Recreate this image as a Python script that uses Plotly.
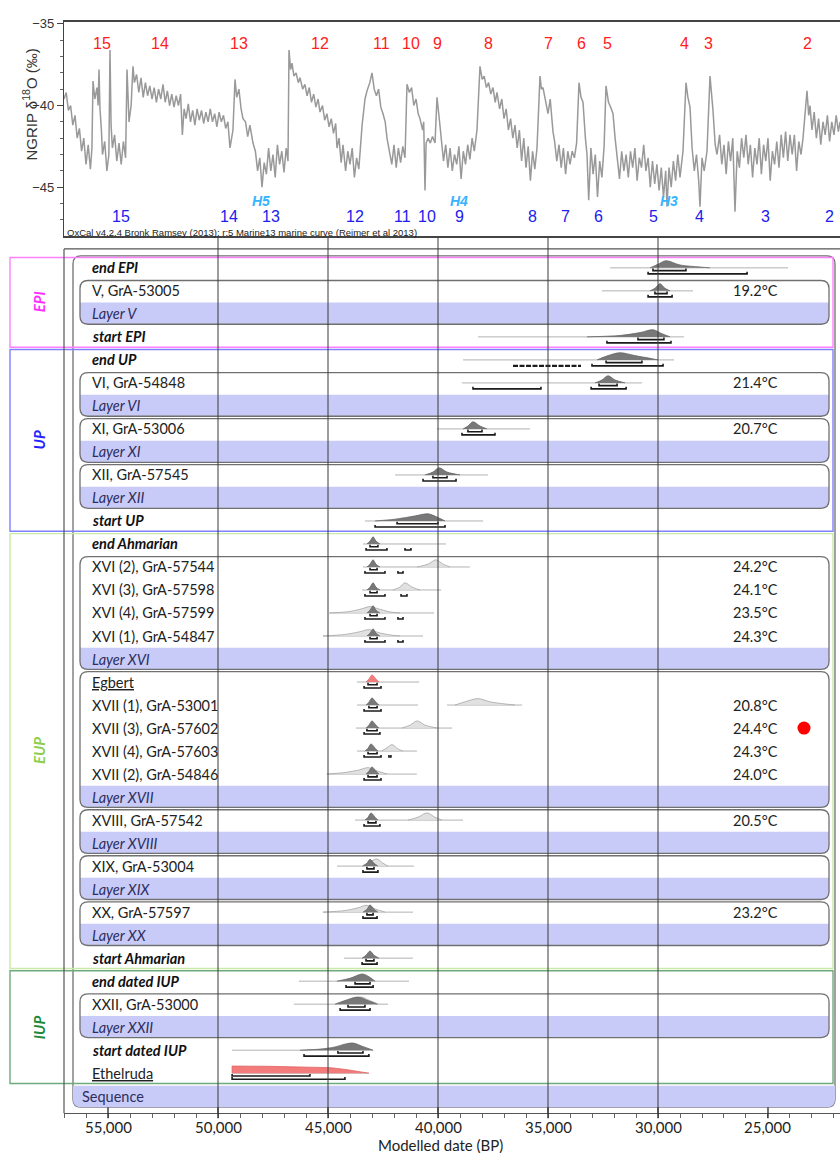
import plotly.graph_objects as go

W, H = 840, 1153

# ---------------- NGRIP d18O record (age BP, permil) ----------------
ngrip = [
(57000,-39.6),(56900,-39.2),(56800,-40.3),(56700,-40.0),(56600,-41.2),(56500,-40.6),(56400,-42.0),(56300,-41.4),
(56200,-42.8),(56100,-42.0),(56000,-43.6),(55900,-42.4),(55800,-43.9),(55730,-42.6),(55682,-38.5),(55600,-39.6),
(55500,-38.9),(55450,-40.0),(55409,-37.8),(55364,-40.2),(55300,-41.5),(55250,-43.0),(55150,-42.2),(55050,-44.0),
(54960,-43.0),(54909,-36.6),(54860,-41.2),(54800,-42.6),(54700,-41.8),(54600,-43.4),(54500,-42.3),(54400,-43.6),
(54300,-42.2),(54200,-43.2),(54136,-37.8),(54045,-41.0),(53950,-40.0),(53864,-37.6),(53800,-38.6),(53700,-38.1),
(53600,-39.2),(53500,-38.3),(53400,-39.5),(53300,-38.6),(53200,-39.4),(53100,-38.8),(53000,-39.6),(52900,-38.9),
(52800,-39.8),(52700,-39.0),(52600,-39.6),(52500,-38.7),(52400,-39.8),(52300,-39.1),(52200,-40.0),(52100,-39.3),
(52000,-40.1),(51900,-39.4),(51800,-40.0),(51700,-39.3),(51620,-41.8),(51540,-40.2),(51450,-40.8),(51350,-39.9),
(51250,-41.0),(51150,-40.3),(51050,-41.2),(50950,-40.2),(50850,-40.9),(50750,-40.3),(50650,-41.1),(50550,-40.4),
(50450,-41.0),(50350,-40.2),(50250,-41.0),(50150,-40.5),(50050,-41.3),(49950,-40.4),(49850,-41.0),(49750,-40.6),
(49650,-41.4),(49550,-41.0),(49455,-42.6),(49320,-41.5),(49227,-38.4),(49150,-39.5),(49050,-39.0),(48950,-40.2),
(48864,-40.8),(48750,-41.0),(48650,-41.9),(48550,-41.2),(48409,-42.3),(48300,-42.8),(48200,-44.0),(48100,-43.2),
(48000,-45.0),(47900,-43.5),(47800,-44.2),(47700,-42.6),(47600,-44.0),(47500,-43.0),(47400,-44.4),(47300,-42.4),
(47200,-43.6),(47100,-42.8),(47000,-44.1),(46900,-42.6),(46818,-43.4),(46773,-36.6),(46700,-37.8),(46636,-37.4),
(46550,-38.2),(46450,-38.0),(46350,-38.6),(46273,-38.3),(46150,-39.0),(46050,-38.7),(45950,-39.4),(45850,-38.9),
(45750,-39.8),(45650,-39.3),(45550,-40.1),(45450,-39.6),(45364,-40.4),(45250,-40.0),(45150,-40.9),(45050,-40.5),
(44950,-41.3),(44850,-40.8),(44750,-41.7),(44650,-41.1),(44591,-42.6),(44500,-42.0),(44400,-43.5),(44318,-42.4),
(44200,-44.0),(44100,-42.8),(44000,-43.6),(43900,-42.6),(43800,-44.4),(43700,-43.2),(43600,-43.9),(43545,-42.8),
(43450,-41.2),(43318,-39.6),(43227,-39.1),(43100,-38.6),(43000,-38.0),(42900,-39.0),(42800,-39.4),(42700,-39.0),
(42600,-40.1),(42500,-40.5),(42400,-41.0),(42318,-42.0),(42200,-42.8),(42100,-43.6),(42000,-42.4),(41900,-43.8),
(41800,-42.6),(41700,-43.5),(41600,-42.5),(41500,-43.2),(41409,-38.7),(41300,-39.2),(41200,-38.9),(41100,-40.0),
(41000,-39.6),(40900,-40.5),(40818,-40.8),(40700,-41.5),(40650,-41.0),(40591,-45.2),(40540,-42.3),(40450,-42.0),
(40350,-42.3),(40250,-41.9),(40136,-42.3),(40045,-39.5),(39950,-40.7),(39850,-42.0),(39750,-43.4),(39650,-42.4),
(39550,-43.8),(39450,-42.6),(39350,-44.0),(39250,-43.0),(39150,-43.6),(39050,-42.5),(38950,-44.5),(38850,-42.8),
(38750,-43.6),(38650,-42.4),(38550,-43.3),(38450,-42.0),(38350,-42.8),(38227,-41.5),(38091,-37.6),(37990,-38.4),
(37900,-38.2),(37800,-38.9),(37700,-38.6),(37600,-39.3),(37500,-38.9),(37400,-39.8),(37318,-39.2),(37200,-40.2),
(37100,-39.6),(37000,-40.8),(36900,-40.2),(36800,-41.5),(36700,-40.8),(36600,-42.0),(36500,-41.2),(36400,-42.6),
(36300,-41.5),(36200,-43.4),(36100,-42.0),(36000,-43.8),(35900,-42.5),(35800,-44.6),(35700,-42.8),(35600,-43.9),
(35500,-42.6),(35364,-38.2),(35300,-39.0),(35227,-38.9),(35100,-39.8),(35000,-40.5),(34900,-39.6),(34773,-41.6),
(34700,-42.2),(34600,-43.4),(34500,-42.4),(34400,-43.8),(34300,-42.6),(34200,-44.2),(34100,-42.8),(34000,-43.6),
(33900,-42.8),(33800,-43.2),(33700,-42.3),(33591,-38.6),(33500,-39.5),(33409,-39.8),(33300,-42.0),(33227,-43.0),
(33150,-45.8),(33050,-42.6),(32950,-44.2),(32850,-43.0),(32750,-45.6),(32650,-43.4),(32550,-44.4),(32450,-42.5),
(32364,-38.8),(32250,-39.8),(32150,-40.1),(32045,-40.5),(31950,-42.0),(31864,-43.0),(31750,-44.5),(31650,-42.8),
(31550,-44.0),(31450,-43.0),(31350,-44.4),(31250,-42.8),(31150,-43.8),(31050,-42.6),(30950,-44.6),(30850,-43.2),
(30750,-43.8),(30650,-42.4),(30550,-44.0),(30450,-43.2),(30350,-45.0),(30250,-43.4),(30150,-44.8),(30050,-43.6),
(29950,-45.2),(29850,-43.8),(29750,-45.6),(29650,-44.0),(29591,-46.2),(29500,-43.8),(29400,-45.0),(29300,-43.4),
(29200,-44.6),(29100,-43.0),(29000,-44.4),(28864,-42.8),(28727,-38.6),(28640,-39.5),(28545,-40.1),(28450,-42.6),
(28350,-44.0),(28250,-43.0),(28150,-44.6),(28091,-46.2),(28000,-43.2),(27900,-44.0),(27773,-42.8),(27636,-38.2),
(27550,-39.4),(27500,-40.3),(27400,-42.4),(27318,-43.0),(27200,-41.8),(27100,-43.6),(27000,-42.4),(26900,-44.2),
(26800,-42.2),(26700,-43.4),(26600,-42.0),(26500,-46.5),(26400,-42.8),(26300,-43.8),(26200,-42.0),(26100,-43.2),
(26000,-41.8),(25900,-43.6),(25800,-42.4),(25700,-44.4),(25600,-42.6),(25500,-43.6),(25400,-42.0),(25300,-44.2),
(25200,-42.4),(25100,-43.4),(25000,-42.0),(24900,-44.6),(24800,-42.8),(24700,-43.6),(24600,-42.2),(24500,-43.8),
(24400,-41.8),(24300,-43.2),(24200,-41.6),(24100,-43.4),(24000,-41.8),(23900,-43.0),(23800,-41.8),(23700,-44.0),
(23600,-42.2),(23500,-43.0),(23409,-42.0),(23227,-39.1),(23150,-40.6),(23091,-40.0),(23000,-41.5),(22900,-40.4),
(22800,-42.0),(22700,-40.8),(22600,-42.4),(22500,-41.0),(22400,-41.8),(22300,-40.6),(22200,-42.2),(22100,-41.0),
(22000,-41.8),(21900,-40.6),(21800,-41.6),(21727,-41.0),
]
ngrip_age = [a for a, v in ngrip]
ngrip_d18o = [v for a, v in ngrip]

# Greenland interstadials (red, top) and stadials (blue, bottom)
gi_age = [55273, 52636, 49046, 45364, 42591, 41227, 40045, 37682, 35000, 33500, 32273, 28773, 27727, 23227]
gi_text = ["15", "14", "13", "12", "11", "10", "9", "8", "7", "6", "5", "4", "3", "2"]
gs_age = [54409, 49500, 47591, 43773, 41636, 40500, 39045, 35727, 34227, 32727, 30182, 28091, 25091, 22227]
gs_text = ["15", "14", "13", "12", "11", "10", "9", "8", "7", "6", "5", "4", "3", "2"]
heinrich_age = [48045, 39045, 29500]
heinrich_text = ["H5", "H4", "H3"]

# ---------------- OxCal model rows ----------------
row_labels = ["end EPI", "V, GrA-53005", "Layer V", "start EPI", "end UP", "VI, GrA-54848", "Layer VI",
              "XI, GrA-53006", "Layer XI", "XII, GrA-57545", "Layer XII", "start UP", "end Ahmarian",
              "XVI (2), GrA-57544", "XVI (3), GrA-57598", "XVI (4), GrA-57599", "XVI (1), GrA-54847",
              "Layer XVI", "Egbert", "XVII (1), GrA-53001", "XVII (3), GrA-57602", "XVII (4), GrA-57603",
              "XVII (2), GrA-54846", "Layer XVII", "XVIII, GrA-57542", "Layer XVIII", "XIX, GrA-53004",
              "Layer XIX", "XX, GrA-57597", "Layer XX", "start Ahmarian", "end dated IUP", "XXII, GrA-53000",
              "Layer XXII", "start dated IUP", "Ethelruda", "Sequence"]
row_kind = ["b", "d", "l", "b", "b", "d", "l", "d", "l", "d", "l", "b", "b",
            "d", "d", "d", "d", "l", "u", "d", "d", "d", "d", "l", "d", "l", "d",
            "l", "d", "l", "b", "b", "d", "l", "b", "u", "s"]

temp_rows = ["V, GrA-53005", "VI, GrA-54848", "XI, GrA-53006", "XVI (2), GrA-57544", "XVI (3), GrA-57598",
             "XVI (4), GrA-57599", "XVI (1), GrA-54847", "XVII (1), GrA-53001", "XVII (3), GrA-57602",
             "XVII (4), GrA-57603", "XVII (2), GrA-54846", "XVIII, GrA-57542", "XX, GrA-57597"]
temp_values = [19.2, 21.4, 20.7, 24.2, 24.1, 23.5, 24.3, 20.8, 24.4, 24.3, 24.0, 20.5, 23.2]
highlight_row = "XVII (3), GrA-57602"
highlight_age = 23364

# phases: (first dated row, layer row)
phases = [("V, GrA-53005", "Layer V"), ("VI, GrA-54848", "Layer VI"), ("XI, GrA-53006", "Layer XI"),
          ("XII, GrA-57545", "Layer XII"), ("XVI (2), GrA-57544", "Layer XVI"), ("Egbert", "Layer XVII"),
          ("XVIII, GrA-57542", "Layer XVIII"), ("XIX, GrA-53004", "Layer XIX"), ("XX, GrA-57597", "Layer XX"),
          ("XXII, GrA-53000", "Layer XXII")]
groups = [("EPI", "end EPI", "start EPI"), ("UP", "end UP", "start UP"),
          ("EUP", "end Ahmarian", "start Ahmarian"), ("IUP", "end dated IUP", "Ethelruda")]

# modelled (posterior) distributions: (age BP, relative density)
posterior = {
    "end EPI": [(30360,0),(30000,0.5),(29640,1),(29000,0.4),(28100,0.12),(27640,0)],
    "V, GrA-53005": [(30360,0),(30140,0.35),(29910,1),(29680,0.35),(29450,0)],
    "start EPI": [(33230,0),(31730,0.2),(30820,0.6),(30230,1),(29820,0.45),(29450,0)],
    "end UP": [(32770,0),(32270,0.6),(31730,1),(31050,0.6),(30360,0.22),(30000,0)],
    "VI, GrA-54848": [(32860,0),(32550,0.4),(32270,1),(31950,0.4),(31500,0)],
    "XI, GrA-53006": [(38860,0),(38640,0.4),(38410,1),(38090,0.4),(37770,0)],
    "XII, GrA-57545": [(40590,0),(40230,0.4),(39950,1),(39590,0.4),(39000,0)],
    "start UP": [(42860,0),(41950,0.25),(41050,0.7),(40450,1),(40050,0.55),(39680,0)],
    "end Ahmarian": [(43230,0),(43090,0.4),(42950,1),(42820,0.4),(42640,0)],
    "XVI (2), GrA-57544": [(43230,0),(43090,0.4),(42950,1),(42820,0.4),(42640,0)],
    "XVI (3), GrA-57598": [(43230,0),(43090,0.4),(42950,1),(42820,0.4),(42640,0)],
    "XVI (4), GrA-57599": [(43230,0),(43090,0.4),(42950,1),(42820,0.4),(42640,0)],
    "XVI (1), GrA-54847": [(43230,0),(43090,0.4),(42950,1),(42820,0.4),(42640,0)],
    "XVII (1), GrA-53001": [(43270,0),(43140,0.4),(43000,1),(42820,0.4),(42680,0)],
    "XVII (3), GrA-57602": [(43270,0),(43140,0.4),(43000,1),(42820,0.4),(42680,0)],
    "XVII (4), GrA-57603": [(43320,0),(43180,0.4),(43045,1),(42860,0.4),(42730,0)],
    "XVII (2), GrA-54846": [(43270,0),(43140,0.4),(43000,1),(42820,0.4),(42680,0)],
    "XVIII, GrA-57542": [(43320,0),(43180,0.4),(43045,1),(42860,0.4),(42730,0)],
    "XIX, GrA-53004": [(43410,0),(43230,0.4),(43090,0.95),(42910,0.4),(42730,0)],
    "XX, GrA-57597": [(43410,0),(43230,0.4),(43090,1),(42910,0.4),(42730,0)],
    "start Ahmarian": [(43450,0),(43270,0.4),(43090,1),(42910,0.4),(42680,0)],
    "end dated IUP": [(44590,0),(44000,0.4),(43450,1),(43180,0.7),(42860,0)],
    "XXII, GrA-53000": [(44680,0),(44230,0.5),(43640,1),(43230,0.55),(42770,0)],
    "start dated IUP": [(46270,0),(45360,0.15),(44680,0.45),(44230,0.85),(43860,1),(43450,0.55),(42950,0)],
}
posterior_red = {
    "Egbert": [(43270,0),(43140,0.4),(43000,1),(42820,0.4),(42680,0)],
    "Ethelruda": [(49360,0),(49360,1),(47800,0.97),(46270,0.92),(44900,0.78),(44200,0.52),(43600,0.2),(43140,0)],
}
# unmodelled (likelihood) distributions
likelihood = {
    "XVI (2), GrA-57544": [(40950,0),(40450,0.4),(40090,1),(39770,0.4),(39450,0)],
    "XVI (3), GrA-57598": [(42050,0),(41730,0.4),(41500,1),(41180,0.4),(40820,0)],
    "XVI (4), GrA-57599": [(44910,0),(44000,0.22),(43450,0.6),(43090,0.9),(42730,0.6),(42180,0.15),(41730,0)],
    "XVI (1), GrA-54847": [(45230,0),(44230,0.22),(43550,0.6),(43140,0.9),(42730,0.5),(42180,0.15),(41730,0)],
    "XVII (1), GrA-53001": [(39230,0),(38770,0.45),(38180,0.9),(37640,0.45),(36950,0.15),(36500,0)],
    "XVII (3), GrA-57602": [(41640,0),(41270,0.4),(40950,1),(40590,0.4),(40050,0)],
    "XVII (4), GrA-57603": [(42550,0),(42320,0.45),(42090,0.9),(41820,0.3),(41590,0)],
    "XVII (2), GrA-54846": [(45050,0),(44230,0.22),(43550,0.6),(43180,0.9),(42770,0.45),(42320,0)],
    "XVIII, GrA-57542": [(41360,0),(40910,0.4),(40500,1),(40140,0.4),(39820,0)],
    "XIX, GrA-53004": [(43450,0),(43090,0.6),(42770,1),(42500,0.4),(42270,0)],
    "XX, GrA-57597": [(45230,0),(44230,0.22),(43640,0.6),(43230,0.95),(42860,0.45),(42410,0)],
    "XXII, GrA-53000": [(44500,0),(44000,0.5),(43500,1),(43100,0.5),(42700,0)],
}
# 68.2% and 95.4% highest posterior density ranges
range68 = {
    "end EPI": [(30230,28730)], "V, GrA-53005": [(30140,29590)], "start EPI": [(30910,29730)],
    "end UP": [(32360,30730)], "VI, GrA-54848": [(32680,31860)], "XI, GrA-53006": [(38640,38000)],
    "XII, GrA-57545": [(40230,39590)], "start UP": [(41860,40000)], "end Ahmarian": [(43090,42730)],
    "XVI (2), GrA-57544": [(43090,42770)], "XVI (3), GrA-57598": [(43090,42770)],
    "XVI (4), GrA-57599": [(43090,42770)], "XVI (1), GrA-54847": [(43090,42770)],
    "Egbert": [(43180,42770)], "XVII (1), GrA-53001": [(43140,42770)], "XVII (3), GrA-57602": [(43230,42770)],
    "XVII (4), GrA-57603": [(43180,42770)], "XVII (2), GrA-54846": [(43180,42770)],
    "XVIII, GrA-57542": [(43180,42820)], "XIX, GrA-53004": [(43230,42910)], "XX, GrA-57597": [(43230,42950)],
    "start Ahmarian": [(43270,42910)], "end dated IUP": [(43770,43090)], "XXII, GrA-53000": [(44090,43320)],
    "start dated IUP": [(44550,43410)], "Ethelruda": [(49360,45820)],
}
range95 = {
    "end EPI": [(30450,25950)], "V, GrA-53005": [(30450,29360)], "start EPI": [(32320,29410)],
    "end UP": [(33000,29770)],
    "VI, GrA-54848": [(38410,35320),(33040,31450)], "XI, GrA-53006": [(38910,37410)],
    "XII, GrA-57545": [(40680,39180)], "start UP": [(42860,39680)],
    "end Ahmarian": [(43270,42320),(41500,41230)],
    "XVI (2), GrA-57544": [(43320,42410),(41820,41590)], "XVI (3), GrA-57598": [(43320,42410),(41680,41410)],
    "XVI (4), GrA-57599": [(43320,42410),(41820,41590)], "XVI (1), GrA-54847": [(43320,42410),(41820,41590)],
    "Egbert": [(43360,42590)], "XVII (1), GrA-53001": [(43360,42590)], "XVII (3), GrA-57602": [(43360,42640)],
    "XVII (4), GrA-57603": [(43360,42590),(42230,42140)], "XVII (2), GrA-54846": [(43360,42590)],
    "XVIII, GrA-57542": [(43360,42640)], "XIX, GrA-53004": [(43410,42730)], "XX, GrA-57597": [(43410,42770)],
    "start Ahmarian": [(43450,42770)], "end dated IUP": [(44180,42950)], "XXII, GrA-53000": [(44450,43090)],
    "start dated IUP": [(46090,43140)], "Ethelruda": [(49360,44230)],
}
# 95.4% range made of many small fragments
range95_fragmented = {"end UP": [(36590,33500)]}
# plotted extent of each distribution
extent = {
    "end EPI": [(32180,24090)], "V, GrA-53005": [(32550,28410)], "start EPI": [(38180,28820)],
    "end UP": [(38860,29270)], "VI, GrA-54848": [(38910,30730)], "XI, GrA-53006": [(40050,35820)],
    "XII, GrA-57545": [(41950,37730)], "start UP": [(43320,37950)], "end Ahmarian": [(43410,39640)],
    "XVI (2), GrA-57544": [(43410,38550)], "XVI (3), GrA-57598": [(43450,39860)],
    "XVI (4), GrA-57599": [(44950,40180)], "XVI (1), GrA-54847": [(45230,40680)],
    "Egbert": [(43680,40860)], "XVII (1), GrA-53001": [(43680,40910),(39590,36180)],
    "XVII (3), GrA-57602": [(43730,39360)], "XVII (4), GrA-57603": [(43680,40960)],
    "XVII (2), GrA-54846": [(45050,40960)], "XVIII, GrA-57542": [(43770,38860)],
    "XIX, GrA-53004": [(44590,41090)], "XX, GrA-57597": [(45230,41140)], "start Ahmarian": [(44270,41140)],
    "end dated IUP": [(46320,41320)], "XXII, GrA-53000": [(46550,42270)], "start dated IUP": [(49360,42950)],
    "Ethelruda": [(49360,43140)],
}
x_ticks = [55000, 50000, 45000, 40000, 35000, 30000, 25000]
x_ticktext = ["55,000", "50,000", "45,000", "40,000", "35,000", "30,000", "25,000"]
grid_ages = [50000, 45000, 40000, 35000, 30000]

# ---------------- layout helpers ----------------
ROW0, ROWH = 264.0, 23.11
def px2row(p): return (p - ROW0) / ROWH
def px(xp): return xp / W
def py(yp): return 1 - yp / H
ri = {lab: i for i, lab in enumerate(row_labels)}

FONT = "Lato"
AFONT = "Liberation Sans"
PEAK = 0.31
OFF68, OFF95, TICK = 0.12, 0.26, 0.09

fig = go.Figure()

# NGRIP curve
fig.add_trace(go.Scatter(x=ngrip_age, y=ngrip_d18o, mode="lines", xaxis="x", yaxis="y",
                         line=dict(color="#999999", width=1.5), hoverinfo="skip", showlegend=False))

# baselines
bx, by = [], []
for lab, segs in extent.items():
    r = ri[lab]
    for a, b in segs:
        bx += [a, b, None]; by += [r, r, None]
fig.add_trace(go.Scatter(x=bx, y=by, mode="lines", xaxis="x2", yaxis="y2",
                         line=dict(color="#a9a9a9", width=0.9), hoverinfo="skip", showlegend=False))

def add_dist(pts, r, fill, line, shape="spline"):
    xs = [a for a, d in pts]
    ys = [r - d * PEAK for a, d in pts]
    fig.add_trace(go.Scatter(x=xs, y=ys, mode="lines", fill="toself", fillcolor=fill, xaxis="x2", yaxis="y2",
                             line=dict(color=line, width=0.8, shape=shape, smoothing=0.9),
                             hoverinfo="skip", showlegend=False))

for lab, pts in likelihood.items():
    add_dist(pts, ri[lab], "rgba(222,222,222,0.9)", "#a6a6a6")
for lab, pts in posterior.items():
    add_dist(pts, ri[lab], "#787878", "#666666")
add_dist(posterior_red["Egbert"], ri["Egbert"], "#f37b7b", "#e06262")
add_dist(posterior_red["Ethelruda"], ri["Ethelruda"], "#f37b7b", "#e06262", shape="linear")

# range bars
rx_, ry_ = [], []
for dct, off in ((range68, OFF68), (range95, OFF95)):
    for lab, segs in dct.items():
        r = ri[lab] + off
        for a, b in segs:
            rx_ += [a, a, b, b, None]
            ry_ += [r - TICK, r, r, r - TICK, None]
fig.add_trace(go.Scatter(x=rx_, y=ry_, mode="lines", xaxis="x2", yaxis="y2",
                         line=dict(color="#1b1b1b", width=1.6), hoverinfo="skip", showlegend=False))
fx, fy = [], []
for lab, segs in range95_fragmented.items():
    r = ri[lab] + OFF95
    for a, b in segs:
        fx += [a, b, None]; fy += [r, r, None]
fig.add_trace(go.Scatter(x=fx, y=fy, mode="lines", xaxis="x2", yaxis="y2",
                         line=dict(color="#1b1b1b", width=2.4, dash="5px,1.5px"),
                         hoverinfo="skip", showlegend=False))

# highlight dot
fig.add_trace(go.Scatter(x=[highlight_age], y=[ri[highlight_row]], mode="markers", xaxis="x2", yaxis="y2",
                         marker=dict(color="#ff0000", size=13), hoverinfo="skip", showlegend=False))

shapes = []
annotations = []

def rrect(x0, x1, y0, y1, r_px=8, top_round=True, bottom_round=True):
    rx = r_px / W
    ryv = r_px / ROWH
    p = ""
    if top_round:
        p += f"M {x0+rx},{y0} L {x1-rx},{y0} Q {x1},{y0} {x1},{y0+ryv} "
    else:
        p += f"M {x0},{y0} L {x1},{y0} "
    if bottom_round:
        p += f"L {x1},{y1-ryv} Q {x1},{y1} {x1-rx},{y1} L {x0+rx},{y1} Q {x0},{y1} {x0},{y1-ryv} "
    else:
        p += f"L {x1},{y1} L {x0},{y1} "
    if top_round:
        p += f"L {x0},{y0+ryv} Q {x0},{y0} {x0+rx},{y0} Z"
    else:
        p += "Z"
    return p

BAND = "#c8cbf7"
BOXLINE = "#707070"

# sequence box
sx0, sx1 = px(73), px(835)
sy0, sy1 = px2row(252), px2row(1107)
shapes.append(dict(type="path", xref="paper", yref="y2", path=rrect(sx0, sx1, sy0, sy1), fillcolor="white",
                   line=dict(color=BOXLINE, width=1.3), layer="below"))
shapes.append(dict(type="path", xref="paper", yref="y2",
                   path=rrect(sx0, sx1, ri["Sequence"] - 0.45, sy1, top_round=False),
                   fillcolor=BAND, line=dict(width=0), layer="below"))

# phase boxes
lx0, lx1 = px(80), px(829)
for first, layer in phases:
    y0 = ri[first] - 0.45
    y1 = ri[layer] + 0.45
    shapes.append(dict(type="path", xref="paper", yref="y2", path=rrect(lx0, lx1, y0, y1), fillcolor="white",
                       line=dict(width=0), layer="below"))
    shapes.append(dict(type="path", xref="paper", yref="y2",
                       path=rrect(lx0, lx1, ri[layer] - 0.49, y1, top_round=False),
                       fillcolor=BAND, line=dict(width=0), layer="below"))
    shapes.append(dict(type="path", xref="paper", yref="y2", path=rrect(lx0, lx1, y0, y1),
                       line=dict(color=BOXLINE, width=1.3), layer="below"))

# group boxes
gcol = {"EPI": "#ff80ff", "UP": "#8080ff", "EUP": "#c8eaa8", "IUP": "#6faa7e"}
gtxt = {"EPI": "#ff2bff", "UP": "#2323ff", "EUP": "#8ccf4c", "IUP": "#1d8a3a"}
for name, a, b in groups:
    y0 = ri[a] - 0.45
    y1 = ri[b] + 0.45
    shapes.append(dict(type="rect", xref="paper", yref="y2", x0=px(10), x1=px(833), y0=y0, y1=y1,
                       line=dict(color=gcol[name], width=1.4), layer="above"))
    annotations.append(dict(xref="paper", yref="y2", x=px(39), y=(y0 + y1) / 2, text=f"<b><i>{name}</i></b>",
                            textangle=-90, showarrow=False, xanchor="center", yanchor="middle",
                            font=dict(family=FONT, size=15, color=gtxt[name])))

# lower panel frame
shapes.append(dict(type="line", xref="paper", yref="paper", x0=px(64), x1=1, y0=py(245), y1=py(245),
                   line=dict(color="#555555", width=1.2), layer="above"))
shapes.append(dict(type="line", xref="paper", yref="paper", x0=px(64), x1=px(64), y0=py(245), y1=py(1113),
                   line=dict(color="#555555", width=1.2), layer="above"))
# grid lines
for g in grid_ages:
    shapes.append(dict(type="line", xref="x2", yref="paper", x0=g, x1=g, y0=py(1113), y1=py(234),
                       line=dict(color="#3a3a3a", width=1), layer="above"))
# major ticks crossing the bottom axis
for t in x_ticks:
    shapes.append(dict(type="line", xref="x2", yref="paper", x0=t, x1=t, y0=py(1118), y1=py(1107),
                       line=dict(color="#333333", width=1.4), layer="above"))

# bottom tick labels
for t, s in zip(x_ticks, x_ticktext):
    annotations.append(dict(xref="x2", yref="paper", x=t, y=py(1127), text=s, showarrow=False,
                            xanchor="center", yanchor="middle",
                            font=dict(family=FONT, size=15, color="#222222")))

# row labels
for i, (lab, kind) in enumerate(zip(row_labels, row_kind)):
    if kind == "b":
        txt, col, x = f"<b><i>{lab}</i></b>", "#111111", 90
    elif kind == "l":
        txt, col, x = f"<i>{lab}</i>", "#2e2e5e", 90
    elif kind == "u":
        txt, col, x = f"<u>{lab}</u>", "#222222", 90
    elif kind == "s":
        txt, col, x = lab, "#2e2e5e", 80
    else:
        txt, col, x = lab, "#222222", 90
    annotations.append(dict(xref="paper", yref="y2", x=px(x), y=i, text=txt, xanchor="left", yanchor="middle",
                            showarrow=False, font=dict(family=FONT, size=14.5, color=col)))

# temperatures
for lab, t in zip(temp_rows, temp_values):
    annotations.append(dict(xref="paper", yref="y2", x=px(755), y=ri[lab], text=f"{t:.1f}°C",
                            xanchor="center", yanchor="middle", showarrow=False,
                            font=dict(family=FONT, size=14.5, color="#222222")))

# top panel labels
for a, t in zip(gi_age, gi_text):
    annotations.append(dict(xref="x", yref="y", x=a, y=-36.18, text=t, showarrow=False,
                            xanchor="center", yanchor="middle",
                            font=dict(family=AFONT, size=16, color="#ff2020")))
for a, t in zip(gs_age, gs_text):
    annotations.append(dict(xref="x", yref="y", x=a, y=-46.78, text=t, showarrow=False,
                            xanchor="center", yanchor="middle",
                            font=dict(family=AFONT, size=16, color="#2020ee")))
for a, t in zip(heinrich_age, heinrich_text):
    annotations.append(dict(xref="x", yref="y", x=a, y=-45.85, text=f"<b><i>{t}</i></b>", showarrow=False,
                            xanchor="center", yanchor="middle",
                            font=dict(family=AFONT, size=14, color="#35b4ff")))
annotations.append(dict(xref="paper", yref="paper", x=px(65), y=py(228),
                        text="OxCal v4.2.4 Bronk Ramsey (2013); r:5 Marine13 marine curve (Reimer et al 2013)",
                        xanchor="left", yanchor="middle", showarrow=False,
                        font=dict(family=AFONT, size=9.5, color="#222222")))
annotations.append(dict(xref="paper", yref="paper", x=px(30), y=py(100),
                        text="NGRIP δ<sup>18</sup>O (‰)", textangle=-90, showarrow=False,
                        xanchor="center", yanchor="middle",
                        font=dict(family=AFONT, size=15, color="#333333")))
annotations.append(dict(xref="paper", yref="paper", x=px(440), y=py(1145), text="Modelled date (BP)",
                        showarrow=False, xanchor="center", yanchor="middle",
                        font=dict(family=FONT, size=15, color="#222222")))

XR = [57000, 21727]
fig.update_layout(
    width=W, height=H, margin=dict(l=0, r=0, t=0, b=0),
    paper_bgcolor="white", plot_bgcolor="rgba(0,0,0,0)",
    showlegend=False, shapes=shapes, annotations=annotations,
    xaxis=dict(domain=[px(64), 1], range=XR, anchor="y", showticklabels=False, ticks="",
               showgrid=False, zeroline=False, showline=True, mirror=True, linecolor="#444444", linewidth=1.5),
    yaxis=dict(domain=[py(232), py(17)], range=[-47.99, -34.88], anchor="x",
               tickvals=[-35, -40, -45], ticks="outside", ticklen=6, tickcolor="#444444",
               minor=dict(dtick=1, ticks="outside", ticklen=3, tickcolor="#666666"),
               showgrid=False, zeroline=False, showline=True, linecolor="#444444", linewidth=1.3,
               tickfont=dict(family=AFONT, size=13, color="#333333")),
    xaxis2=dict(domain=[px(64), 1], range=XR, anchor="y2", tickvals=x_ticks, showticklabels=False,
                ticks="",
                minor=dict(dtick=1000, ticks="outside", ticklen=4, tickcolor="#666666"),
                showgrid=False, zeroline=False, showline=True, linecolor="#555555", linewidth=1.2),
    yaxis2=dict(domain=[py(1113), py(245)], range=[px2row(1113), px2row(245)], anchor="x2",
                visible=False, showgrid=False, zeroline=False),
)

fig.write_html("out.html", config={"displayModeBar": False},
               post_script="document.body.style.margin='0px';document.body.style.overflow='hidden';")
